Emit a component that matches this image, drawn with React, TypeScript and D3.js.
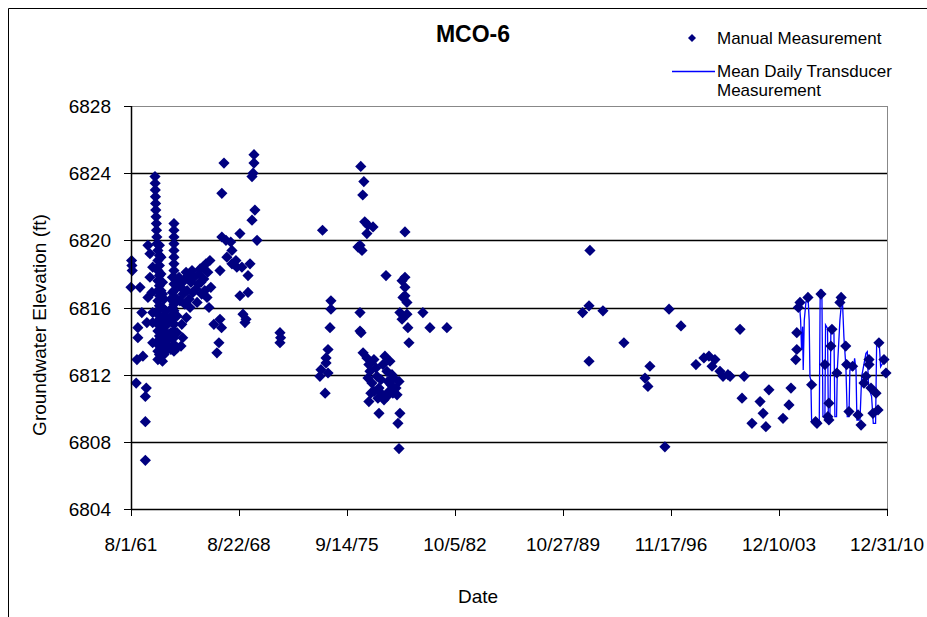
import React from 'react';
import * as d3 from 'd3';

// [decimal year, elevation ft]
const manual1960s: [number, number][] = [
  [1961.62, 6818.8], [1961.64, 6818.5], [1961.66, 6818.2], [1961.58, 6817.2],
  [1961.92, 6811.5], [1962.58, 6811.2], [1962.52, 6810.7], [1962.52, 6809.2], [1962.52, 6806.9],
  [1961.97, 6812.9], [1962.36, 6813.1], [1962.03, 6814.2], [1962.03, 6814.8], [1962.29, 6815.7],
  [1962.62, 6815.1], [1963.0, 6815.1], [1963.0, 6815.7], [1963.0, 6813.9],
  [1962.17, 6817.2], [1962.69, 6816.6], [1962.95, 6816.9], [1962.82, 6817.8], [1962.69, 6819.7],
  [1962.82, 6819.2], [1963.0, 6818.4],
  [1963.15, 6823.8], [1963.16, 6823.4], [1963.17, 6823.0], [1963.18, 6822.6], [1963.19, 6822.2],
  [1963.2, 6821.8], [1963.22, 6821.4], [1963.24, 6821.0], [1963.25, 6820.6], [1963.27, 6820.2],
  [1963.28, 6819.8],
  [1963.34, 6819.4], [1963.34, 6818.8], [1963.34, 6818.2], [1963.34, 6817.6], [1963.34, 6817.0],
  [1963.34, 6816.4], [1963.34, 6815.8], [1963.34, 6815.2], [1963.34, 6814.6], [1963.34, 6814.0],
  [1963.34, 6813.4], [1963.34, 6812.9],
  [1963.44, 6819.7], [1963.44, 6819.1], [1963.44, 6818.5], [1963.44, 6817.9], [1963.44, 6817.3],
  [1963.44, 6816.7], [1963.44, 6816.1], [1963.44, 6815.5], [1963.44, 6814.9], [1963.44, 6814.3],
  [1963.44, 6813.7], [1963.44, 6813.2],
  [1963.54, 6819.0], [1963.54, 6818.0], [1963.54, 6817.0], [1963.54, 6816.0], [1963.54, 6815.0],
  [1963.54, 6814.2], [1963.54, 6813.6], [1963.54, 6813.1],
  [1963.64, 6817.5], [1963.64, 6816.8], [1963.64, 6816.0], [1963.64, 6815.2], [1963.64, 6814.4],
  [1963.64, 6813.6], [1963.64, 6812.8],
  [1963.74, 6816.5], [1963.74, 6815.5], [1963.74, 6814.6], [1963.74, 6813.8], [1963.74, 6813.2],
  [1963.84, 6815.8], [1963.84, 6814.9], [1963.84, 6814.1], [1963.84, 6813.4],
  [1963.93, 6815.0], [1963.93, 6814.0], [1963.93, 6813.5],
  [1964.39, 6821.0], [1964.39, 6820.6], [1964.39, 6820.2], [1964.39, 6819.8], [1964.39, 6819.4],
  [1964.39, 6819.0], [1964.39, 6818.6], [1964.39, 6818.2], [1964.39, 6817.8], [1964.39, 6817.4],
  [1964.39, 6817.0], [1964.39, 6816.6], [1964.39, 6816.2], [1964.39, 6815.8], [1964.39, 6815.4],
  [1964.39, 6815.0], [1964.39, 6814.6], [1964.39, 6814.2], [1964.39, 6813.8], [1964.39, 6813.4],
  [1964.06, 6815.3], [1964.06, 6814.4], [1964.06, 6813.6],
  [1964.19, 6816.5], [1964.19, 6815.5], [1964.19, 6814.5], [1964.19, 6813.5],
  [1964.29, 6817.8], [1964.29, 6816.9], [1964.29, 6816.0], [1964.29, 6815.1], [1964.29, 6814.2],
  [1964.59, 6817.5], [1964.59, 6816.5], [1964.59, 6815.5], [1964.59, 6814.5], [1964.59, 6813.6],
  [1964.72, 6817.8], [1964.85, 6817.2], [1964.98, 6816.8], [1965.05, 6817.6], [1965.18, 6818.1],
  [1965.25, 6817.0], [1965.38, 6816.5], [1965.5, 6817.5], [1965.57, 6818.2], [1965.7, 6817.8],
  [1965.83, 6817.1], [1965.9, 6816.3], [1966.02, 6818.0], [1966.15, 6817.5], [1966.28, 6818.4],
  [1966.4, 6817.0], [1966.48, 6818.6], [1966.6, 6818.1], [1966.74, 6818.8], [1966.8, 6817.2],
  [1966.55, 6816.6], [1966.68, 6816.0], [1965.44, 6816.0], [1965.2, 6815.4], [1964.9, 6815.0],
  [1964.96, 6814.2], [1964.85, 6813.7],
  [1964.78, 6816.4], [1965.1, 6816.2], [1965.31, 6817.9], [1965.63, 6816.9], [1965.96, 6817.4],
  [1966.2, 6816.8], [1966.34, 6817.7], [1966.1, 6818.3],
  [1967.0, 6815.0], [1967.4, 6815.3], [1967.5, 6814.8], [1967.33, 6813.9], [1967.2, 6813.3],
  [1967.4, 6818.2],
  [1967.52, 6820.2], [1967.79, 6820.0], [1968.1, 6819.9], [1968.18, 6819.4], [1967.85, 6819.0],
  [1968.44, 6818.8], [1968.5, 6818.4], [1968.18, 6818.6], [1967.52, 6822.8], [1967.66, 6824.6],
  [1968.7, 6820.4], [1969.49, 6821.2], [1969.68, 6821.8], [1969.82, 6820.0], [1969.56, 6824.0],
  [1969.49, 6823.8], [1969.62, 6824.6], [1969.62, 6825.1],
  [1968.83, 6818.4], [1968.7, 6816.7], [1969.23, 6816.9], [1968.9, 6815.6], [1969.03, 6815.1],
  [1969.36, 6818.6], [1969.23, 6817.9], [1969.1, 6815.3],
  [1971.32, 6814.5], [1971.36, 6814.2], [1971.32, 6813.9],
];

const manual1970s: [number, number][] = [
  [1974.1, 6820.6], [1976.6, 6824.4], [1976.8, 6823.5], [1976.73, 6822.7], [1976.86, 6821.1],
  [1977.07, 6820.9], [1977.4, 6820.8], [1977.0, 6820.4], [1976.55, 6819.7], [1976.68, 6819.4],
  [1976.42, 6819.6], [1979.49, 6820.5], [1978.25, 6817.9], [1979.49, 6817.8], [1979.3, 6817.6],
  [1979.49, 6817.2], [1979.36, 6816.6], [1979.62, 6816.3], [1979.49, 6816.7],
  [1979.16, 6815.7], [1979.62, 6815.6], [1979.3, 6815.3], [1979.68, 6814.8], [1980.66, 6815.7],
  [1981.12, 6814.8], [1982.23, 6814.8], [1979.75, 6813.9],
  [1974.65, 6816.4], [1974.65, 6815.9], [1974.59, 6814.8], [1976.55, 6815.7], [1976.62, 6814.5],
  [1976.55, 6814.6],
  [1974.46, 6813.5], [1974.33, 6813.0], [1974.33, 6812.7], [1974.0, 6812.3], [1973.93, 6811.9],
  [1974.46, 6812.1], [1974.27, 6810.9],
  [1976.75, 6813.3], [1977.0, 6813.0], [1977.13, 6812.6], [1977.2, 6812.2], [1977.07, 6811.8],
  [1977.33, 6811.5], [1977.46, 6812.9], [1977.59, 6812.4], [1977.66, 6811.9], [1977.79, 6811.2],
  [1977.92, 6811.7], [1978.05, 6812.6], [1978.18, 6813.1], [1978.31, 6812.2], [1978.38, 6811.6],
  [1978.44, 6811.0], [1978.57, 6811.4], [1978.64, 6812.0], [1978.77, 6811.8], [1978.9, 6811.2],
  [1978.97, 6810.8], [1977.72, 6810.6], [1977.92, 6810.9], [1978.12, 6810.5], [1977.46, 6811.0],
  [1977.26, 6810.9], [1978.51, 6812.8], [1978.7, 6810.9], [1978.31, 6810.7], [1979.1, 6811.6],
  [1977.13, 6810.4], [1977.79, 6809.7], [1979.16, 6809.7], [1979.03, 6809.1], [1979.1, 6807.6],
];

const manual1990s: [number, number][] = [
  [1991.58, 6819.4], [1991.52, 6816.1], [1991.1, 6815.7], [1992.43, 6815.8], [1991.52, 6812.8],
  [1993.8, 6813.9], [1995.5, 6812.5], [1995.18, 6811.8], [1995.37, 6811.3], [1996.48, 6807.7],
  [1996.75, 6815.9], [1997.53, 6814.9],
  [1998.51, 6812.6], [1999.03, 6813.0], [1999.36, 6813.1], [1999.75, 6812.9], [1999.56, 6812.5],
  [2000.08, 6812.2], [2000.28, 6811.9], [2000.74, 6811.9], [2000.6, 6812.0], [2001.39, 6814.7],
  [2001.66, 6811.9], [2001.52, 6810.6], [2002.7, 6810.4], [2002.9, 6809.7], [2002.17, 6809.1],
  [2003.08, 6808.9], [2003.28, 6811.1], [2004.2, 6809.4], [2004.72, 6811.2], [2004.59, 6810.2],
];

const manual2000s: [number, number][] = [
  [2005.03, 6812.9], [2005.1, 6813.5], [2005.1, 6814.5], [2005.2, 6816.0], [2005.31, 6816.3],
  [2005.83, 6816.6], [2006.68, 6816.8], [2008.0, 6816.6], [2007.92, 6816.3], [2007.4, 6814.7],
  [2007.33, 6813.7], [2008.3, 6813.7], [2006.94, 6812.6], [2007.72, 6812.1], [2008.36, 6812.6],
  [2008.75, 6812.5], [2006.07, 6811.4], [2006.33, 6809.2], [2006.42, 6809.1], [2007.2, 6810.3],
  [2007.13, 6809.5], [2007.2, 6809.3], [2008.51, 6809.8], [2009.1, 6809.6], [2009.3, 6809.0],
  [2009.82, 6812.9], [2009.82, 6812.6], [2009.62, 6811.9], [2009.49, 6811.5], [2009.95, 6811.2],
  [2010.28, 6810.9], [2010.08, 6809.7], [2010.41, 6809.9], [2010.47, 6813.9], [2010.8, 6812.9],
  [2010.93, 6812.1],
];

const transducer: [number, number][] = [
  [2005.26, 6816.35], [2005.35, 6815.25], [2005.41, 6813.47], [2005.48, 6814.86], [2005.52, 6812.28],
  [2005.59, 6815.25], [2005.7, 6816.35], [2005.85, 6816.35], [2005.91, 6815.25], [2005.96, 6811.88],
  [2006.02, 6811.68], [2006.07, 6809.2], [2006.57, 6809.2], [2006.63, 6817.04], [2006.74, 6817.04],
  [2006.81, 6809.5], [2006.94, 6809.5], [2006.98, 6814.96], [2007.11, 6814.76], [2007.16, 6809.7],
  [2007.27, 6809.7], [2007.33, 6814.66], [2007.53, 6814.46], [2007.59, 6809.5], [2007.7, 6809.5],
  [2007.75, 6812.28], [2007.92, 6815.25], [2008.07, 6816.74], [2008.18, 6814.26], [2008.31, 6812.47],
  [2008.4, 6809.5], [2008.51, 6809.5], [2008.57, 6812.28], [2008.79, 6812.28], [2008.88, 6812.97],
  [2008.97, 6812.28], [2009.03, 6809.3], [2009.23, 6809.3], [2009.34, 6811.88], [2009.62, 6813.27],
  [2009.71, 6813.37], [2009.79, 6811.28], [2009.99, 6810.69], [2010.1, 6809.1], [2010.25, 6809.1],
  [2010.32, 6813.86], [2010.49, 6813.86], [2010.58, 6812.47], [2010.71, 6812.67],
];

const tickDates = [
  new Date(1961, 7, 1), new Date(1968, 7, 22), new Date(1975, 8, 14), new Date(1982, 9, 5),
  new Date(1989, 9, 27), new Date(1996, 10, 17), new Date(2003, 11, 10), new Date(2010, 11, 31),
];
const tickLabels = ['8/1/61', '8/22/68', '9/14/75', '10/5/82', '10/27/89', '11/17/96', '12/10/03', '12/31/10'];
const yTicks = [6804, 6808, 6812, 6816, 6820, 6824, 6828];

const toDate = (yr: number) => {
  const y = Math.floor(yr);
  const start = new Date(y, 0, 1).getTime();
  const end = new Date(y + 1, 0, 1).getTime();
  return new Date(start + (yr - y) * (end - start));
};

const W = 927, H = 617;
const L = 131, R = 887, T = 106, B = 509;
const font = '"Liberation Sans", Arial, sans-serif';
const NAVY = '#000080';
const diamond = 'M0,-5.6L5.6,0L0,5.6L-5.6,0Z';

export default function App() {
  const x = d3.scaleTime().domain([tickDates[0], tickDates[tickDates.length - 1]]).range([L, R]);
  const y = d3.scaleLinear().domain([6804, 6828]).range([B, T]);
  const manual = [...manual1960s, ...manual1970s, ...manual1990s, ...manual2000s];
  const line = d3.line<[number, number]>()
    .x(d => x(toDate(d[0])))
    .y(d => y(d[1]));

  return (
    <svg width={W} height={H} style={{ position: 'absolute', left: 0, top: 0, background: '#fff' }} fontFamily={font}>
      <rect x={0} y={0} width={W} height={H} fill="#fff" />
      <line x1={8.5} y1={8.5} x2={W} y2={8.5} stroke="#000" />
      <line x1={8.5} y1={8.5} x2={8.5} y2={H} stroke="#000" />

      {yTicks.filter(t => t > 6804 && t < 6828).map(t => (
        <line key={t} x1={L} x2={R} y1={Math.round(y(t)) + 0.5} y2={Math.round(y(t)) + 0.5} stroke="#000" strokeWidth={1.3} />
      ))}
      <line x1={L} x2={R} y1={T + 0.5} y2={T + 0.5} stroke="#888" />
      <line x1={R + 0.5} x2={R + 0.5} y1={T} y2={B} stroke="#888" />

      <path d={line(transducer) || ''} fill="none" stroke="#0000FF" strokeWidth={1.3} />
      {manual.map((d, i) => (
        <path key={i} d={diamond} fill={NAVY} transform={`translate(${x(toDate(d[0]))},${y(d[1])})`} />
      ))}

      {/* axes */}
      <line x1={L + 0.5} x2={L + 0.5} y1={T} y2={B} stroke="#000" strokeWidth={1.5} />
      <line x1={L} x2={R + 1} y1={B + 0.5} y2={B + 0.5} stroke="#000" strokeWidth={1.5} />
      {yTicks.map(t => (
        <g key={t}>
          <line x1={L - 7} x2={L} y1={Math.round(y(t)) + 0.5} y2={Math.round(y(t)) + 0.5} stroke="#000" />
          <text x={111} y={y(t) + 7} textAnchor="end" fontSize={19}>{t}</text>
        </g>
      ))}
      {tickDates.map((d, i) => (
        <g key={i}>
          <line x1={Math.round(x(d)) + 0.5} x2={Math.round(x(d)) + 0.5} y1={B} y2={B + 7} stroke="#000" />
          <text x={x(d)} y={551} textAnchor="middle" fontSize={19}>{tickLabels[i]}</text>
        </g>
      ))}

      <text x={478} y={603} textAnchor="middle" fontSize={19}>Date</text>
      <text transform="translate(46,325) rotate(-90)" textAnchor="middle" fontSize={19}>Groundwater Elevation (ft)</text>
      <text x={473} y={42} textAnchor="middle" fontSize={23} fontWeight="bold">MCO-6</text>

      {/* legend */}
      <path d="M0,-4L4,0L0,4L-4,0Z" fill={NAVY} transform="translate(692,38)" />
      <text x={717} y={44} fontSize={17}>Manual Measurement</text>
      <line x1={672} x2={715} y1={71.5} y2={71.5} stroke="#0000FF" strokeWidth={1.3} />
      <text x={717} y={77} fontSize={17}>Mean Daily Transducer</text>
      <text x={717} y={96} fontSize={17}>Measurement</text>
    </svg>
  );
}
